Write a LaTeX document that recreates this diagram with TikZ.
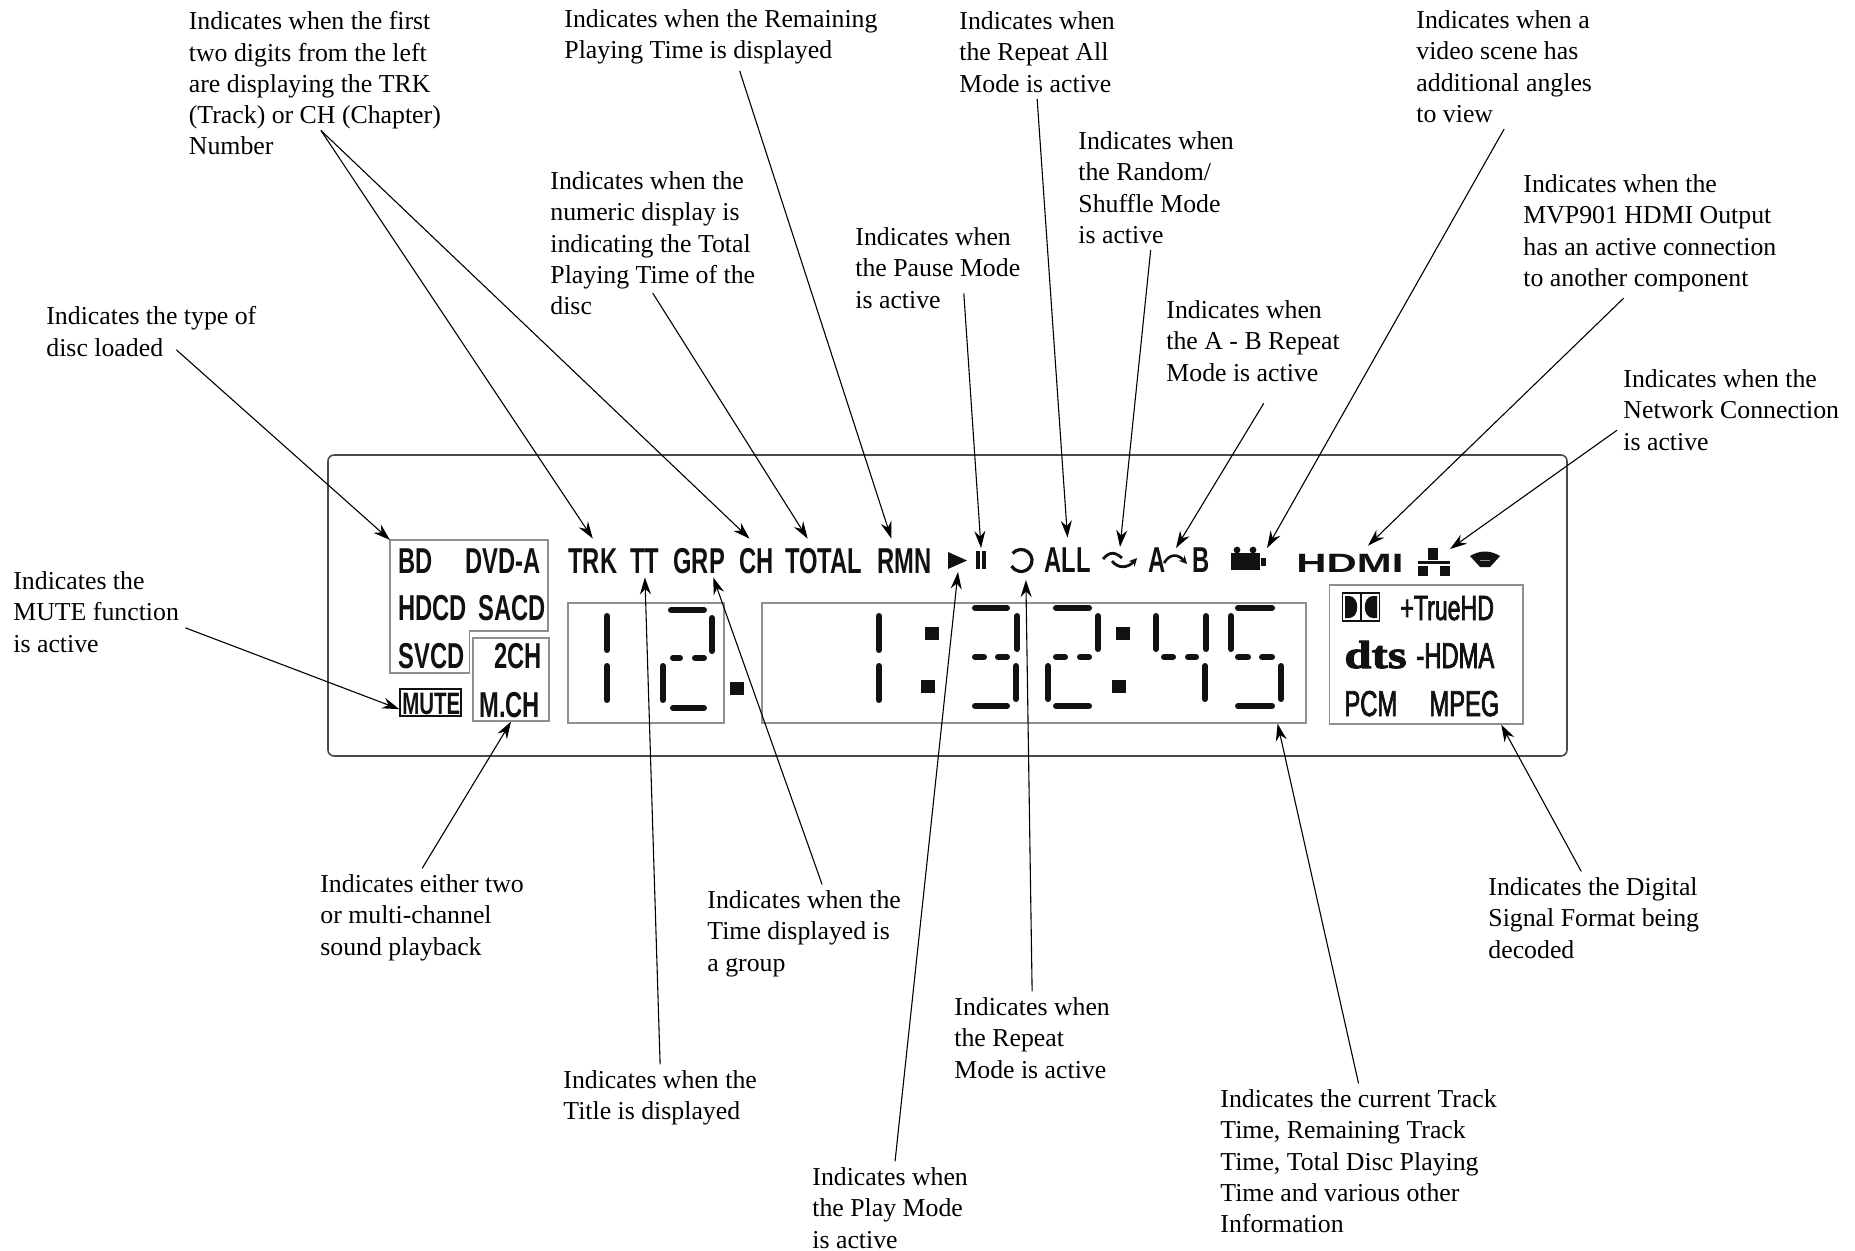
\documentclass[tikz,border=0pt]{standalone}
\usepackage{fontspec}
\setmainfont{Liberation Serif}
\newfontfamily\lcdfont[FakeStretch=0.66]{Liberation Sans}
\newfontfamily\lcdthinfont[FakeStretch=0.66,FakeBold=2]{Liberation Sans}
\newfontfamily\hdmifont[FakeStretch=1.58]{Liberation Sans}
\newfontfamily\dtsfont[FakeStretch=1.25,FakeBold=2.5]{Liberation Serif}
\usetikzlibrary{arrows.meta,positioning}
\definecolor{panelgray}{HTML}{4a4a4a}
\definecolor{boxgray}{HTML}{8f8f8f}
\definecolor{lcdblack}{HTML}{111111}

\begin{document}
\begin{tikzpicture}[
  x=0.5pt,y=-0.5pt,
  lbl/.style={anchor=north west,inner sep=3pt,align=left,font=\fontsize{12.9}{15.6}\selectfont},
  lcd/.style={anchor=base west,inner sep=0pt,text=lcdblack,font=\lcdfont\bfseries\fontsize{18}{18}\selectfont},
  lcdthin/.style={lcd,font=\lcdthinfont\fontsize{18}{18}\selectfont},
  lcdtop/.style={lcd,text height=17pt,text depth=2pt},
  lcdbox/.style={rectangle,draw=boxgray,line width=0.7pt,inner sep=0pt},
  symbox/.style={rectangle,inner sep=0pt,outer sep=0pt},
  lcdseg/.style={line width=3pt,line cap=round,lcdblack},
  arrow/.style={-{Stealth[length=8.5pt,width=5.5pt]},line width=0.55pt,black},
]
\useasboundingbox (0,0) rectangle (1855,1250);

% Display panel
\node[rectangle,draw=panelgray,line width=0.8pt,rounded corners=3pt,inner sep=0pt,
  minimum width=619.5pt,minimum height=150.5pt] (panel) at (947.5,605.5) {};

% Boxes on the panel
\draw[boxgray,line width=0.7pt] (390,540) -- (548,540) -- (548,631) -- (469.5,631) -- (469.5,673) -- (390,673) -- cycle;
\node[symbox,minimum width=79pt,minimum height=45.5pt] (discbox) at (469,585.5) {};
\node[lcdbox,minimum width=38pt,minimum height=41.5pt] (chbox) at (511,679.5) {};
\node[lcdbox,draw=lcdblack,minimum width=30.5pt,minimum height=13.5pt] (mute) at (430.5,702.5) {};
\node[lcdbox,minimum width=78pt,minimum height=60pt] (trackbox) at (646,663) {};
\node[lcdbox,minimum width=272pt,minimum height=60pt] (timebox) at (1034,663) {};
\node[lcdbox,minimum width=96.8pt,minimum height=69.5pt] (fmtbox) at (1426,654.5) {};

% Disc type texts
\node[lcd] (bd) at (398,573) {BD};
\node[lcd] (dvda) at (465,573) {DVD-A};
\node[lcd] (hdcd) at (398,620) {HDCD};
\node[lcd] (sacd) at (478,620) {SACD};
\node[lcd] (svcd) at (398,668) {SVCD};
\node[lcd] (twoch) at (494,668) {2CH};
\node[lcd] (mch) at (479,717) {M.CH};
\node[lcd,font=\lcdfont\bfseries\fontsize{15.5}{15.5}\selectfont] (mutetxt) at (402,714) {MUTE};

% Top row texts
\node[lcdtop] (trk) at (568,573) {TRK};
\node[lcdtop] (tt) at (630,573) {TT};
\node[lcdtop] (grp) at (673,573) {GRP};
\node[lcdtop] (ch) at (739,573) {CH};
\node[lcdtop] (total) at (785,573) {TOTAL};
\node[lcdtop] (rmn) at (877,573) {RMN};
\node[lcdtop] (all) at (1044,572) {ALL};
\node[lcd] (atxt) at (1148,572) {A};
\node[lcd] (btxt) at (1192,572) {B};

% Top row symbols
\node[symbox,minimum width=10pt,minimum height=10pt] (playsym) at (958,562) {};
\fill[lcdblack] (948,552) -- (967,560.5) -- (948,569) -- cycle;
\node[symbox,minimum width=6pt,minimum height=12pt] (pause) at (981,560) {};
\fill[lcdblack] (975.5,551) rectangle (980,569);
\fill[lcdblack] (981.5,551) rectangle (986,569);
\node[symbox,minimum width=12pt,minimum height=17pt] (repeatsym) at (1021,563) {};
\draw[lcdblack,line width=1.6pt] (1012.6,553.4) arc[start angle=140,end angle=-150,x radius=5.5pt,y radius=5.5pt];
\node[symbox,minimum width=17pt,minimum height=13pt] (shuffle) at (1120,560) {};
\draw[lcdblack,line width=1.4pt] (1103,559) .. controls (1110,551) and (1115,552) .. (1122,558);
\draw[lcdblack,line width=1.4pt,-{Stealth[length=4pt,width=4pt]}] (1112,561) .. controls (1118,569) and (1128,568) .. (1137,558);
\node[symbox,minimum width=12pt,minimum height=12pt] (absym) at (1176,560) {};
\draw[lcdblack,line width=1.3pt,-{Stealth[length=4pt,width=4pt]}] (1164,563) .. controls (1170,553) and (1178,554) .. (1187,564);
\node[symbox,minimum width=18pt,minimum height=11pt] (camera) at (1249,559) {};
\fill[lcdblack] (1231,553) rectangle (1260,570);
\fill[lcdblack] (1237,550) circle[radius=1.7pt];
\fill[lcdblack] (1253,550) circle[radius=1.7pt];
\fill[lcdblack] (1261,558) rectangle (1266,566);
\node[lcd,font=\hdmifont\bfseries\fontsize{13.25}{13.25}\selectfont,text height=13pt,text depth=3.5pt] (hdmi) at (1296,572) {HDMI};
\node[symbox,minimum width=16pt,minimum height=13.5pt] (netsym) at (1434,562.5) {};
\fill[lcdblack] (1428,548) rectangle (1438,560);
\fill[lcdblack] (1418,561) rectangle (1450,564);
\fill[lcdblack] (1418,566) rectangle (1428,576);
\fill[lcdblack] (1440,566) rectangle (1450,576);
\fill[lcdblack] (1470,556) .. controls (1480,550) and (1490,550) .. (1500,556) -- (1490,567) -- (1480,567) -- cycle;
\draw[boxgray,line width=0.5pt] (1480,560.5) -- (1490,560.5);

% Digits
\foreach \xa/\ya/\xb/\yb in {607/616/607/650,607/666/607/700,
  671/610/704/610,712/618/712/651,673/658/680/658,695/658/704/658,663/666/663/700,673/708/704/708,
  879/616/879/650,879/666/879/700,
  975/608/1007/608,1017/616/1017/649,975/657/984/657,998/657/1007/657,1016/666/1016/699,975/706/1007/706,
  1056/608/1089/608,1098/616/1098/649,1056/657/1065/657,1080/657/1089/657,1048/666/1048/699,1056/706/1089/706,
  1156/616/1156/649,1206/616/1206/649,1164/657/1173/657,1188/657/1196/657,1205/666/1205/699,
  1238/608/1272/608,1231/616/1231/649,1238/657/1248/657,1262/657/1272/657,1281/666/1281/699,1238/706/1272/706}
  \draw[lcdseg] (\xa,\ya) -- (\xb,\yb);
\foreach \xa/\ya in {730/682,925/627,921/680,1116/627,1112/680}
  \fill[lcdblack] (\xa,\ya) rectangle ++(14,13);

% Format box
\draw[lcdblack,line width=0.6pt] (1342.5,593) rectangle (1361,621);
\draw[lcdblack,line width=0.6pt] (1361,593) rectangle (1379.5,621);
\fill[lcdblack] (1345,596) -- (1349,596) .. controls (1360,596) and (1360,618) .. (1349,618) -- (1345,618) -- cycle;
\fill[lcdblack] (1377,596) -- (1373,596) .. controls (1362,596) and (1362,618) .. (1373,618) -- (1377,618) -- cycle;
\node[lcdthin,font=\lcdthinfont\fontsize{17.5}{17.5}\selectfont] (truehd) at (1400,620) {+TrueHD};
\node[lcd,font=\dtsfont\bfseries\fontsize{19.5}{19.5}\selectfont] (dts) at (1344,668) {dts};
\node[lcdthin] (hdma) at (1416,668) {-HDMA};
\node[lcdthin] (pcm) at (1344,716) {PCM};
\node[lcdthin] (mpeg) at (1429,716) {MPEG};

% Labels above
\node[lbl] (firstlbl) at (182.5,5.4) {Indicates when the first\\two digits from the left\\are displaying the TRK\\(Track) or CH (Chapter)\\Number};
\node[lbl] (rmnlbl) at (558,3.4) {Indicates when the Remaining\\Playing Time is displayed};
\node[lbl] (alllbl) at (953,5.4) {Indicates when\\the Repeat All\\Mode is active};
\node[lbl] (anglelbl) at (1410,4.4) {Indicates when a\\video scene has\\additional angles\\to view};
\node[lbl] (randomlbl) at (1072,125.4) {Indicates when\\the Random/\\Shuffle Mode\\is active};
\node[lbl] (totallbl) at (544,165.4) {Indicates when the\\numeric display is\\indicating the Total\\Playing Time of the\\disc};
\node[lbl] (pauselbl) at (849,221.4) {Indicates when\\the Pause Mode\\is active};
\node[lbl] (hdmilbl) at (1517,168.4) {Indicates when the\\MVP901 HDMI Output\\has an active connection\\to another component};
\node[lbl] (ablbl) at (1160,294.4) {Indicates when\\the A - B Repeat\\Mode is active};
\node[lbl] (netlbl) at (1617,363.4) {Indicates when the\\Network Connection\\is active};
\node[lbl] (disclbl) at (40,300.4) {Indicates the type of\\disc loaded};
\node[lbl] (mutelbl) at (7,565.4) {Indicates the\\MUTE function\\is active};

% Labels below
\node[lbl] (chlbl) at (314,868.4) {Indicates either two\\or multi-channel\\sound playback};
\node[lbl] (grplbl) at (701,884.4) {Indicates when the\\Time displayed is\\a group};
\node[lbl] (fmtlbl) at (1482,871.4) {Indicates the Digital\\Signal Format being\\decoded};
\node[lbl] (repeatlbl) at (948,991.4) {Indicates when\\the Repeat\\Mode is active};
\node[lbl] (ttlbl) at (557,1064.4) {Indicates when the\\Title is displayed};
\node[lbl] (timelbl) at (1214,1083.4) {Indicates the current Track\\Time, Remaining Track\\Time, Total Disc Playing\\Time and various other\\Information};
\node[lbl] (playlbl) at (806,1161.4) {Indicates when\\the Play Mode\\is active};

% Arrows down to the panel
\draw[arrow] ([shift={(12.5pt,6.5pt)}]disclbl.south) -- (discbox.north west);
\draw[arrow] ([shift={(3pt,15.5pt)}]firstlbl.south) -- (trk.north);
\draw[arrow] ([shift={(3pt,15.5pt)}]firstlbl.south) -- (ch.110);
\draw[arrow] ([yshift=14pt]totallbl.south) -- (total.130);
\draw[arrow] (rmnlbl.-61) -- (rmn.124);
\draw[arrow] ([shift={(13pt,10.7pt)}]pauselbl.south) -- (pause.north);
\draw[arrow] (alllbl.south) -- (all.north);
\draw[arrow] (randomlbl.-95) -- (shuffle.north);
\draw[arrow] ([shift={(5.3pt,-7.8pt)}]ablbl.south) -- (absym.north);
\draw[arrow] (anglelbl.south) -- (camera.north east);
\draw[arrow] (hdmilbl.-112) -- (hdmi.43);
\draw[arrow] (netlbl.190) -- (netsym.north east);
\draw[arrow] (mutelbl.-10) -- (mute.192);

% Arrows up to the panel
\draw[arrow] (chlbl.north) -- (chbox.south);
\draw[arrow] (ttlbl.north) -- (tt.south);
\draw[arrow] (grplbl.70) -- (grp.-54);
\draw[arrow] (playlbl.84) -- (playsym.south);
\draw[arrow] (repeatlbl.north) -- (repeatsym.-74);
\draw[arrow] (timelbl.north) -- (timebox.-14.4);
\draw[arrow] (fmtlbl.105) -- (fmtbox.-43.5);

\end{tikzpicture}
\end{document}
